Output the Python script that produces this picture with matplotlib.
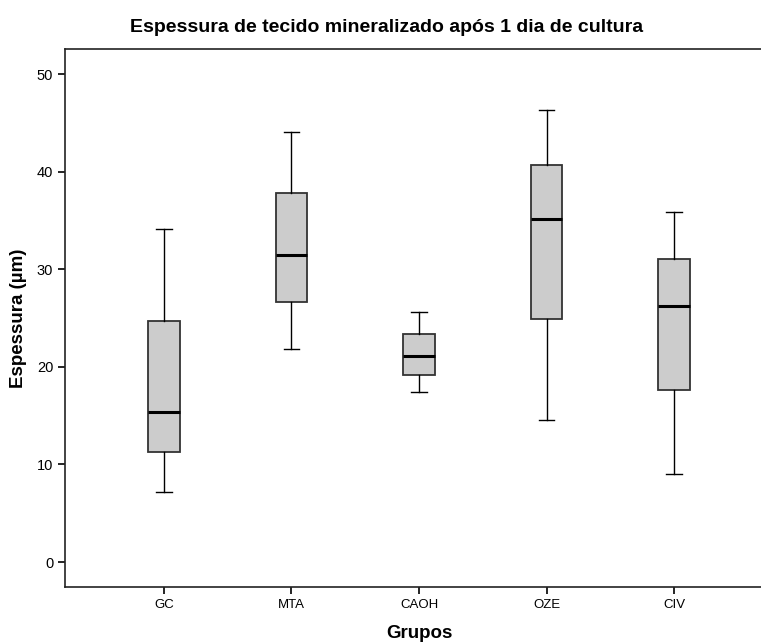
import matplotlib.pyplot as plt

plt.rcParams['font.family'] = ['Liberation Sans', 'DejaVu Sans']

# valores
grupos = ['GC', 'MTA', 'CAOH', 'OZE', 'CIV']
wmin = [7.2, 21.8, 17.4, 14.6, 9.0]
q1 = [11.3, 26.6, 19.2, 24.9, 17.6]
med = [15.4, 31.5, 21.1, 35.2, 26.2]
q3 = [24.7, 37.8, 23.4, 40.7, 31.1]
wmax = [34.1, 44.1, 25.6, 46.3, 35.9]

stats = []
for i in range(len(grupos)):
    stats.append({'label': grupos[i], 'whislo': wmin[i], 'q1': q1[i], 'med': med[i],
                  'q3': q3[i], 'whishi': wmax[i], 'fliers': []})

fig = plt.figure(figsize=(7.61, 6.44), dpi=100)
ax = fig.add_axes([65 / 761, 57 / 644, 708 / 761, 538.3 / 644])

ax.bxp(stats, positions=range(1, 6), widths=0.25, patch_artist=True, showfliers=False,
       boxprops=dict(facecolor='#cccccc', edgecolor='#333333', linewidth=1.3),
       medianprops=dict(color='black', linewidth=2.2),
       whiskerprops=dict(color='black', linewidth=1),
       capprops=dict(color='black', linewidth=1),
       capwidths=0.125)

ax.set_xlim(0.224, 5.776)
ax.set_ylim(-2.56, 52.6)
ax.set_yticks([0, 10, 20, 30, 40, 50])
ax.spines['right'].set_visible(False)
for s in ['left', 'bottom', 'top']:
    ax.spines[s].set_linewidth(1.2)
    ax.spines[s].set_color('#222222')
ax.tick_params(axis='both', direction='out', length=5, width=1.2)
ax.tick_params(axis='x', labelsize=9.5)
ax.tick_params(axis='y', labelsize=10.5)

ax.set_ylabel('Espessura (µm)', fontsize=13.5, fontweight='bold', labelpad=7)
ax.set_xlabel('Grupos', fontsize=13.5, fontweight='bold', labelpad=10)
fig.text(387 / 761, 1 - 27 / 644, 'Espessura de tecido mineralizado após 1 dia de cultura',
         ha='center', va='center', fontsize=14, fontweight='bold')

fig.savefig('out.png', dpi=100)
